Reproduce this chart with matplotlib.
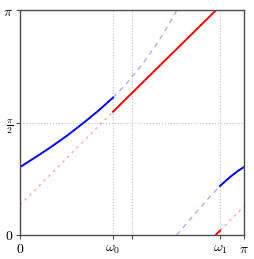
import numpy as np
import matplotlib
matplotlib.use('Agg')
import matplotlib.pyplot as plt

plt.rcParams['mathtext.fontset'] = 'cm'
plt.rcParams['font.family'] = ['DejaVu Serif']

# frequency marks
w0 = 1.304
w1 = 2.805

# blue curve, split where it is solid / dashed / wrapped
blue_a_x = [0.0, 0.22, 0.44, 0.66, 0.88, 1.10, w0]
blue_a_y = [0.95, 1.09, 1.235, 1.39, 1.56, 1.74, 1.922]
blue_b_x = [w0, 1.50, 1.70, 1.90, 2.05, 2.198]
blue_b_y = [1.922, 2.128, 2.368, 2.648, 2.885, np.pi]
blue_c_x = [2.198, 2.35, 2.50, 2.65, w1]
blue_c_y = [0.0, 0.178, 0.35, 0.52, 0.686]
blue_d_x = [w1, 2.89, 2.97, 3.06, np.pi]
blue_d_y = [0.686, 0.762, 0.83, 0.899, 0.95]

# red line
red_a_x = [0.0, w0]
red_a_y = [0.42, 1.725]
red_b_x = [w0, 2.745]
red_b_y = [1.725, np.pi]
red_c_x = [2.745, w1]
red_c_y = [0.0, 0.06]
red_d_x = [w1, np.pi]
red_d_y = [0.06, 0.40]

xticks = [0, w0, np.pi / 2, w1, np.pi]
xlabels = ['$0$', r'$\omega_0$', '', r'$\omega_1$', r'$\pi$']
yticks = [0, np.pi / 2, np.pi]
ylabels = ['$0$', r'$\frac{\pi}{2}$', r'$\pi$']

fig = plt.figure(figsize=(2.54, 2.59), dpi=100)
ax = fig.add_axes([20 / 254, 24 / 259, 224 / 254, 224.5 / 259])

# solid parts
ax.plot(blue_a_x, blue_a_y, color='blue', lw=1.4)
ax.plot(blue_d_x, blue_d_y, color='blue', lw=1.4)
ax.plot(red_b_x, red_b_y, color='red', lw=1.4)
ax.plot(red_c_x, red_c_y, color='red', lw=1.4)
# dashed continuations
ax.plot(blue_b_x, blue_b_y, color='blue', lw=0.9, ls=(0, (4, 3.5)), alpha=0.35)
ax.plot(blue_c_x, blue_c_y, color='blue', lw=0.9, ls=(0, (4, 3.5)), alpha=0.35)
ax.plot(red_a_x, red_a_y, color='red', lw=0.8, ls=(0, (2.5, 3.5)), alpha=0.4)
ax.plot(red_d_x, red_d_y, color='red', lw=0.8, ls=(0, (2.5, 3.5)), alpha=0.4)

ax.set_xlim(0, np.pi)
ax.set_ylim(0, np.pi)
ax.set_xticks(xticks)
ax.set_xticklabels(xlabels)
ax.set_yticks(yticks)
ax.set_yticklabels(ylabels)
ax.tick_params(labelsize=10, length=3, width=0.8, color='0.3', pad=2)
ax.grid(True, ls=':', color='0.75', lw=0.8)
for s in ax.spines.values():
    s.set_color('0.3')
    s.set_linewidth(1.0)

fig.savefig('out.png', dpi=100)
